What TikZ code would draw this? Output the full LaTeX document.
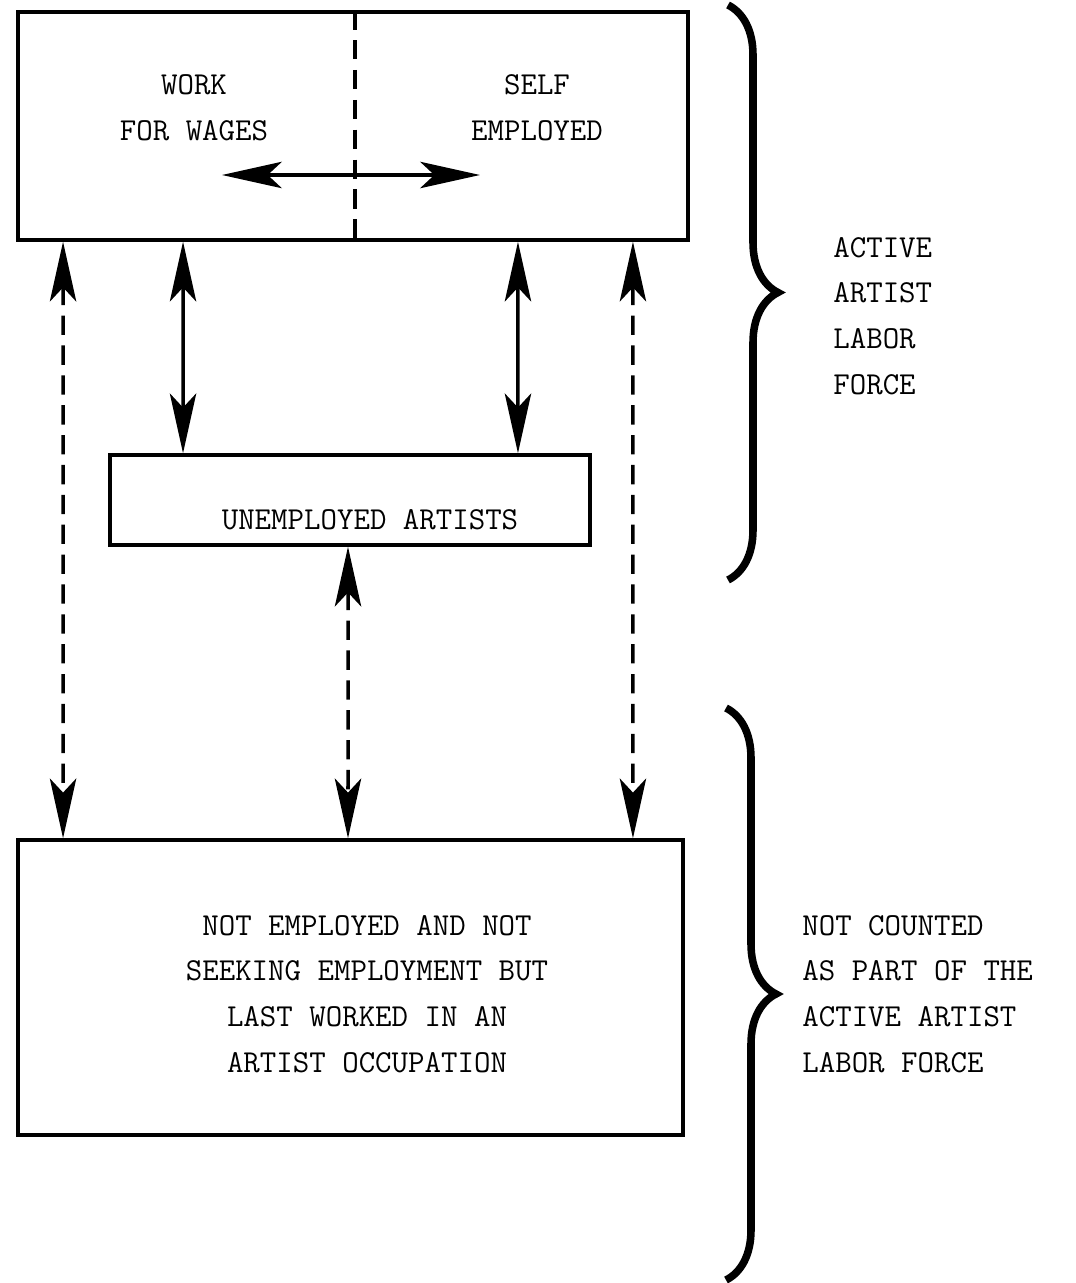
\documentclass[tikz,border=0pt]{standalone}
\usepackage{fontspec}
\usetikzlibrary{positioning, arrows.meta, decorations.pathreplacing}

\begin{document}
\begin{tikzpicture}[
  x=0.02cm, y=-0.02cm,
  font=\ttfamily\fontsize{18.2}{26}\selectfont,
  box/.style={draw, line width=2pt, inner sep=0pt},
  dub/.style={{Stealth[length=34pt, width=15pt, inset=8pt]}-{Stealth[length=34pt, width=15pt, inset=8pt]},
    line width=2pt},
  brk/.style={dash pattern=on 11pt off 6pt},
  brc/.style={decorate, decoration={brace, amplitude=1cm}, line width=4.3pt},
  lbl/.style={align=center, inner sep=0pt},
]
  \useasboundingbox (0,0) rectangle (1075,1283);

  % boxes
  \node[box, minimum width=13.4cm, minimum height=4.56cm] (paid)  at (353,126)   {};
  \node[box, minimum width=9.6cm,  minimum height=1.8cm]  (unemp) at (350,500)   {};
  \node[box, minimum width=13.3cm, minimum height=5.9cm]  (low)   at (350.5,987.5) {};

  \draw[line width=2pt, brk] ([xshift=0.04cm]paid.north) -- ([xshift=0.04cm]paid.south);

  \node[lbl] (wages) at (194,108) {WORK\\FOR WAGES};
  \node[lbl] (self)  at (537,108) {SELF\\EMPLOYED};
  \node[lbl] at (370,520) {UNEMPLOYED ARTISTS};
  \node[lbl] at (367,994) {NOT EMPLOYED AND NOT\\SEEKING EMPLOYMENT BUT\\LAST WORKED IN AN\\ARTIST OCCUPATION};

  % flows
  \coordinate (hl) at (222,175);
  \coordinate (hr) at (480,175);
  \draw[dub] (hl) -- (hr);
  \draw[dub] ([xshift=-3.4cm]paid.south) -- ([xshift=-3.34cm]unemp.north);
  \draw[dub] ([xshift=3.3cm]paid.south)  -- ([xshift=3.36cm]unemp.north);
  \draw[dub, brk] ([xshift=-5.8cm]paid.south) -- ([xshift=-5.75cm]low.north);
  \draw[dub, brk] ([xshift=5.6cm]paid.south)  -- ([xshift=5.65cm]low.north);
  \draw[dub, brk] ([xshift=-0.04cm]unemp.south) -- ([xshift=-0.05cm]low.north);

  % braces
  \coordinate (b1t) at (728,5);
  \coordinate (b1b) at (728,580);
  \coordinate (b2t) at (726,708);
  \coordinate (b2b) at (726,1280);
  \draw[brc] (b1t) -- (b1b);
  \draw[brc] (b2t) -- (b2b);

  \node[lbl, align=left, anchor=west] (active) at (833,316) {ACTIVE\\ARTIST\\LABOR\\FORCE};
  \node[lbl, align=left, anchor=west] (notc)   at (802,994) {NOT COUNTED\\AS PART OF THE\\ACTIVE ARTIST\\LABOR FORCE};
\end{tikzpicture}
\end{document}
